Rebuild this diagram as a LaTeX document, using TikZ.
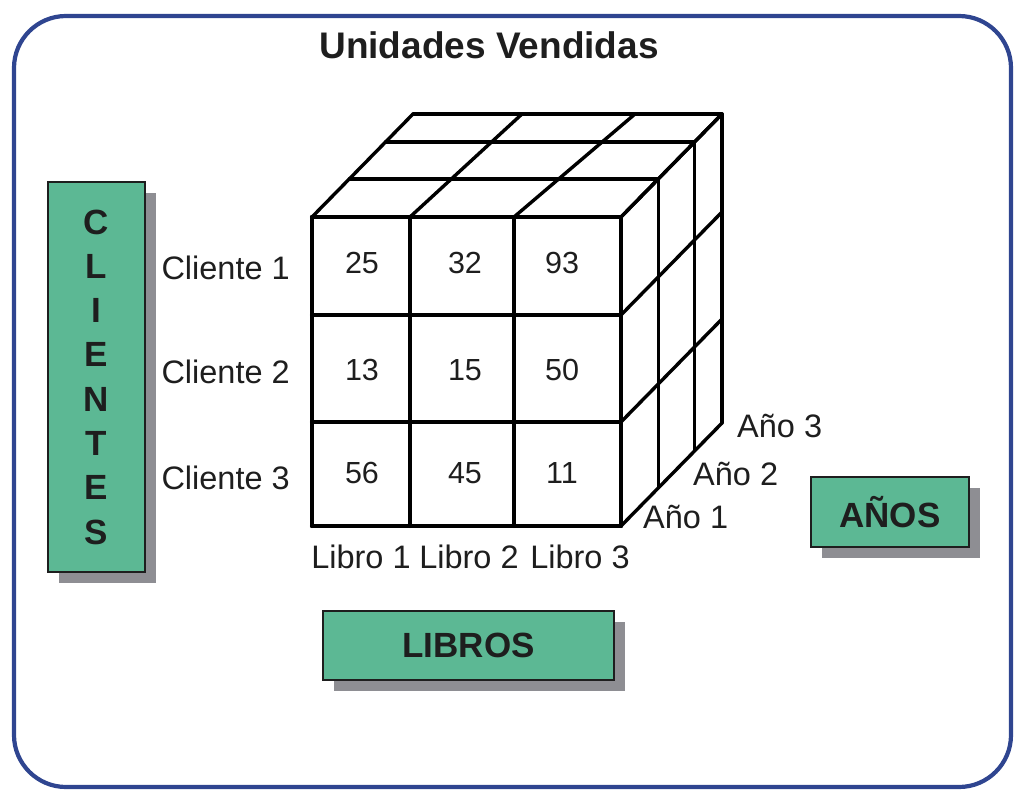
\documentclass[tikz,border=0pt]{standalone}
\usepackage{fontspec}
\setmainfont{Liberation Sans}
\usetikzlibrary{shadows}
\definecolor{frameblue}{HTML}{2F4590}
\definecolor{boxgreen}{HTML}{5CB894}
\definecolor{shadowgray}{HTML}{8E8E93}
\definecolor{inkc}{HTML}{1E1E1E}
\begin{document}
\begin{tikzpicture}[x=1pt,y=-1pt,
  lbl/.style={inner sep=0pt, font=\fontsize{32.5}{36}\selectfont, text=inkc},
  num/.style={inner sep=0pt, font=\fontsize{30.5}{34}\selectfont, text=inkc},
  dimbox/.style={draw=inkc, line width=1.2pt, fill=boxgreen, inner sep=0pt,
    font=\bfseries\fontsize{35}{44.3}\selectfont, text=inkc, align=center,
    general shadow={fill=shadowgray, draw=none, shadow xshift=11pt, shadow yshift=-11pt}},
  frontline/.style={line width=4.2pt, line cap=round, draw=black},
  edgeline/.style={line width=3.4pt, line cap=round, draw=black}]
\useasboundingbox (0,0) rectangle (1026,808);
% outer frame
\draw[frameblue, line width=4.2pt, rounded corners=52pt] (14,16) rectangle (1011,787);
% title
\node[inner sep=0pt, font=\bfseries\fontsize{37}{40}\selectfont, text=inkc] (title) at (489,45) {Unidades Vendidas};
% cube: top face
\foreach \t in {0.369,0.728,1}
  \draw[edgeline] ({312+101*\t},{217-103*\t}) -- ({621+101*\t},{217-103*\t});
\draw[edgeline] (312,217) -- (413,114);
\draw[edgeline] (410,217) -- (522,114);
\draw[edgeline] (514,217) -- (635,114);
\draw[edgeline] (621,217) -- (722,114);
% cube: right face
\foreach \t in {0.369,0.728,1}
  \draw[edgeline] ({621+101*\t},{217-103*\t}) -- ({621+101*\t},{526-103*\t});
\foreach \y in {217,315,422,526}
  \draw[edgeline] (621,\y) -- (722,{\y-103});
% cube: front face
\foreach \x in {312,410,514,621}
  \draw[frontline] (\x,217) -- (\x,526);
\foreach \y in {217,315,422,526}
  \draw[frontline] (312,\y) -- (621,\y);
% values
\node[num, anchor=base] (v11) at (362,273) {25};
\node[num, anchor=base] (v12) at (465,273) {32};
\node[num, anchor=base] (v13) at (562,273) {93};
\node[num, anchor=base] (v21) at (362,380) {13};
\node[num, anchor=base] (v22) at (465,380) {15};
\node[num, anchor=base] (v23) at (562,380) {50};
\node[num, anchor=base] (v31) at (362,483) {56};
\node[num, anchor=base] (v32) at (465,483) {45};
\node[num, anchor=base] (v33) at (562,483) {11};
% row labels
\node[lbl, anchor=base east] (c1) at (290,279) {Cliente 1};
\node[lbl, anchor=base east] (c2) at (290,383) {Cliente 2};
\node[lbl, anchor=base east] (c3) at (290,489) {Cliente 3};
% column labels
\node[lbl, anchor=base] (l1) at (361,568) {Libro 1};
\node[lbl, anchor=base] (l2) at (469,568) {Libro 2};
\node[lbl, anchor=base] (l3) at (580,568) {Libro 3};
% depth labels
\node[lbl, anchor=base west] (a3) at (737,437) {Año 3};
\node[lbl, anchor=base west] (a2) at (693,485) {Año 2};
\node[lbl, anchor=base west] (a1) at (643,528) {Año 1};
% dimension boxes
\node[dimbox, minimum width=97pt, minimum height=390pt] (clientes) at (96.5,377)
  {C\\L\\I\\E\\N\\T\\E\\S};
\node[dimbox, minimum width=291pt, minimum height=69pt] (libros) at (468.5,645.5) {LIBROS};
\node[dimbox, minimum width=158pt, minimum height=70pt] (anos) at (890,512) {AÑOS};
\end{tikzpicture}
\end{document}
